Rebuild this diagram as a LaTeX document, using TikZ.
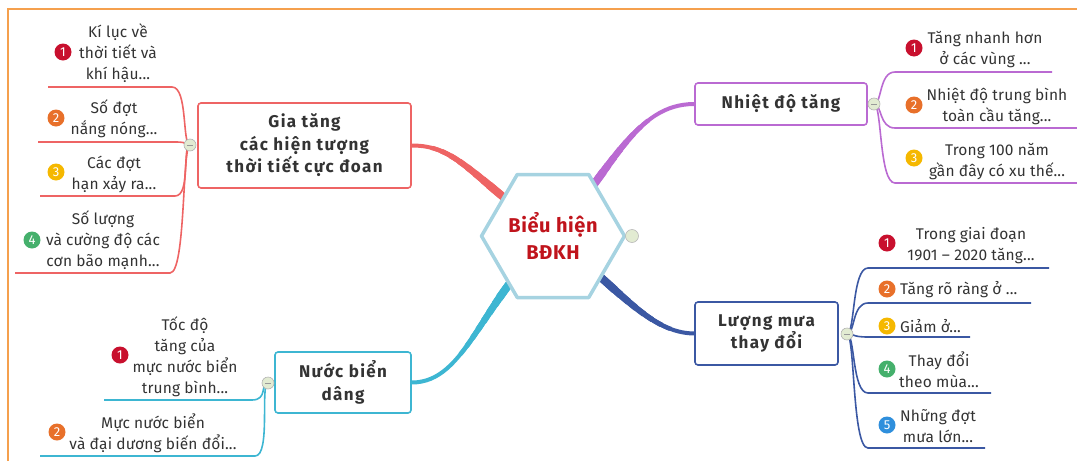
\documentclass[tikz,border=0pt]{standalone}
\usepackage{fontspec}
\setmainfont{Fira Sans}
\pgfdeclarelayer{background}
\pgfsetlayers{background,main}
\definecolor{cred}{HTML}{EE6464}
\definecolor{cpur}{HTML}{BA6AD2}
\definecolor{cblu}{HTML}{3B58A3}
\definecolor{ccya}{HTML}{3DB6D2}
\definecolor{chex}{HTML}{A6D3E1}
\definecolor{cdark}{HTML}{C0141C}
\definecolor{ctxt}{HTML}{333333}
\definecolor{cframe}{HTML}{F5A04E}
\definecolor{b1}{HTML}{C8102E}
\definecolor{b2}{HTML}{E8702A}
\definecolor{b3}{HTML}{F5B800}
\definecolor{b4}{HTML}{45B06C}
\definecolor{b5}{HTML}{2F8FDC}
\definecolor{cknob}{HTML}{E2EBD2}
\begin{document}
\begin{tikzpicture}[x=1pt,y=-1pt,
  mainbox/.style={draw, fill=white, rounded corners=3pt, line width=1.6pt, align=center, text=ctxt,
    font=\fontsize{17}{22.5}\selectfont\bfseries\addfontfeatures{LetterSpace=8}, inner sep=0pt},
  leaf/.style={align=center, text=ctxt, font=\fontsize{15.5}{21}\selectfont\addfontfeatures{LetterSpace=1}, inner sep=0pt},
  badge/.style={circle, fill=#1, text=white, inner sep=0pt, minimum size=17pt, font=\fontsize{13}{13}\selectfont},
  collapse/.style={circle, draw=gray!60, fill=cknob, line width=0.6pt, minimum size=12pt, inner sep=0pt,
    path picture={\draw[gray!80, line width=0.8pt] ([xshift=-3pt]path picture bounding box.center) -- ([xshift=3pt]path picture bounding box.center);}},
  knob/.style={circle, draw=gray!55, fill=cknob, line width=0.6pt, minimum size=13pt, inner sep=0pt},
  conn/.style={line cap=butt},
  br/.style={line width=1.6pt}
]
\useasboundingbox (0,0) rectangle (1077,461);
\draw[cframe, line width=1.8pt] (8,461) -- (8,9) -- (1077,9);

% centre
\node[inner sep=0pt, minimum size=100pt, circle] (hex) at (553,236) {};
\draw[chex, line width=3.5pt, fill=white, line join=round]
  ([shift={(-71.5,0)}]hex.center) -- ([shift={(-35.75,-61.5)}]hex.center) -- ([shift={(35.75,-61.5)}]hex.center)
  -- ([shift={(71.5,0)}]hex.center) -- ([shift={(35.75,61.5)}]hex.center) -- ([shift={(-35.75,61.5)}]hex.center) -- cycle;
\node[font=\fontsize{20}{27}\selectfont\bfseries\addfontfeatures{LetterSpace=3}, text=cdark, align=center] (hext) at (hex.center) {Biểu hiện\\BĐKH};
\node[knob] (hk) at (632,236) {};

% main topics
\node[mainbox, draw=cred, minimum width=213pt, minimum height=85pt] (gia) at (304.5,145.5) {Gia tăng\\các hiện tượng\\thời tiết cực đoan};
\node[mainbox, draw=cpur, minimum width=172pt, minimum height=42pt] (nhiet) at (781,104) {Nhiệt độ tăng};
\node[mainbox, draw=cblu, minimum width=143pt, minimum height=63pt] (mua) at (766.5,333.5) {Lượng mưa\\thay đổi};
\node[mainbox, draw=ccya, minimum width=136pt, minimum height=61pt] (bien) at (343,382.5) {Nước biển\\dâng};

\begin{pgfonlayer}{background}
\foreach \w/\r in {4/400, 4.5/150, 5/140, 5.5/130, 6/120, 6.5/110, 7/100, 7.5/90, 8/82}{
  \begin{scope}
    \clip (hex.center) circle[radius=\r];
    \draw[conn, line width=\w pt, cred] (gia.east) .. controls +(45,0) and (470,175) .. (hex.center);
    \draw[conn, line width=\w pt, cpur] (hex.center) .. controls (612,170) and (635,104) .. (nhiet.west);
    \draw[conn, line width=\w pt, cblu] (hex.center) .. controls (620,290) and (650,333) .. (mua.west);
    \draw[conn, line width=\w pt, ccya] (bien.east) .. controls +(55,0) and (480,300) .. (hex.center);
  \end{scope}
}
\end{pgfonlayer}

% collapse points
\coordinate (cg0) at (190,145);
\coordinate (cp0) at (874,104);
\coordinate (cb0) at (847,334);
\coordinate (cc0) at (268,383);

% line end coordinates
\coordinate (g1r) at (172,87);  \coordinate (g1l) at (48,87);
\coordinate (g2r) at (175,142); \coordinate (g2l) at (38,142);
\coordinate (g3r) at (175,196); \coordinate (g3l) at (40,196);
\coordinate (g4r) at (170,273); \coordinate (g4l) at (15,273);
\coordinate (p1l) at (895,72);  \coordinate (p1r) at (1052,72);
\coordinate (p2l) at (895,128); \coordinate (p2r) at (1077,128);
\coordinate (p3l) at (895,183); \coordinate (p3r) at (1077,183);
\coordinate (m1l) at (868,268); \coordinate (m1r) at (1049,268);
\coordinate (m2l) at (868,303); \coordinate (m2r) at (1031,303);
\coordinate (m3l) at (868,337); \coordinate (m3r) at (970,337);
\coordinate (m4l) at (868,393); \coordinate (m4r) at (991,393);
\coordinate (m5l) at (868,448); \coordinate (m5r) at (985,448);
\coordinate (c1r) at (252,400); \coordinate (c1l) at (104,400);
\coordinate (c2r) at (255,456); \coordinate (c2l) at (40,456);

\begin{pgfonlayer}{background}
\foreach \a in {g1,g2,g3,g4}
  \draw[br, cred] (cg0) .. controls +(-8,0) and +(16,0) .. (\a r) -- (\a l);
\foreach \a in {p1,p2,p3}
  \draw[br, cpur] (cp0) .. controls +(8,0) and +(-16,0) .. (\a l) -- (\a r);
\foreach \a in {m1,m2,m3,m4,m5}
  \draw[br, cblu] (cb0) .. controls +(8,0) and +(-16,0) .. (\a l) -- (\a r);
\foreach \a in {c1,c2}
  \draw[br, ccya] (cc0) .. controls +(-8,0) and +(16,0) .. (\a r) -- (\a l);
\end{pgfonlayer}

\node[collapse] (cg) at (cg0) {};
\node[collapse] (cp) at (cp0) {};
\node[collapse] (cb) at (cb0) {};
\node[collapse] (cc) at (cc0) {};

% left red leaves
\node[leaf] (g1) at (118,53) {Kí lục về\\thời tiết và\\khí hậu...};
\node[badge=b1] at (63,52) {1};
\node[leaf] (g2) at (114,119) {Số đợt\\nắng nóng...};
\node[badge=b2] at (56,118) {2};
\node[leaf] (g3) at (114,174) {Các đợt\\hạn xảy ra...};
\node[badge=b3] at (56,172) {3};
\node[leaf] (g4) at (103,240) {Số lượng\\và cường độ các\\cơn bão mạnh...};
\node[badge=b4] at (32,240) {4};

% purple leaves
\node[leaf] (p1) at (985,50) {Tăng nhanh hơn\\ở các vùng ...};
\node[badge=b1] at (914,48) {1};
\node[leaf] (p2) at (997,106) {Nhiệt độ trung bình\\toàn cầu tăng...};
\node[badge=b2] at (914,105) {2};
\node[leaf] (p3) at (997,162) {Trong 100 năm\\gần đây có xu thế...};
\node[badge=b3] at (914,158) {3};

% blue leaves
\node[leaf] (m1) at (971,246) {Trong giai đoạn\\1901 – 2020 tăng...};
\node[badge=b1] at (887,243) {1};
\node[leaf, anchor=west] (m2) at (900,290) {Tăng rõ ràng ở ...};
\node[badge=b2] at (887,289) {2};
\node[leaf, anchor=west] (m3) at (900,326) {Giảm ở...};
\node[badge=b3] at (887,326) {3};
\node[leaf] (m4) at (939,370) {Thay đổi\\theo mùa...};
\node[badge=b4] at (887,369) {4};
\node[leaf] (m5) at (938,426) {Những đợt\\mưa lớn...};
\node[badge=b5] at (887,425) {5};

% cyan leaves
\node[leaf] (c1) at (185,357) {Tốc độ\\tăng của\\mực nước biển\\trung bình...};
\node[badge=b1] at (120,355) {1};
\node[leaf] (c2) at (153,433) {Mực nước biển\\và đại dương biến đổi...};
\node[badge=b2] at (57,432) {2};
\end{tikzpicture}
\end{document}
